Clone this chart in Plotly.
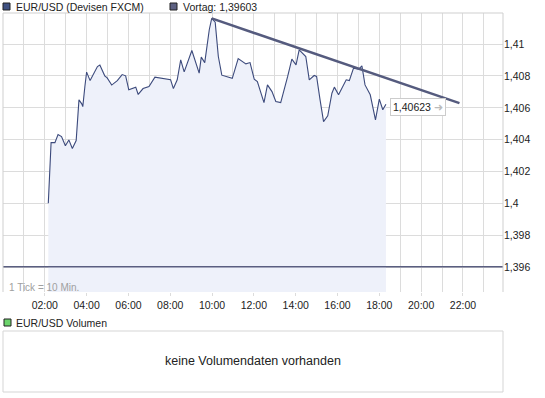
import plotly.graph_objects as go

DAY = "2011-04-29"
times = ["02:10","02:14","02:18","02:29","02:38","02:48","02:59","03:09","03:19","03:30",
         "03:38","03:46","03:49","03:55","04:00","04:10","04:18","04:31","04:38","04:52",
         "04:59","05:12","05:28","05:42","05:52","06:01","06:21","06:28","06:42","06:59",
         "07:16","07:37","08:01","08:09","08:20","08:30","08:40","09:02","09:23","09:29",
         "09:39","09:52","09:59","10:09","10:18","10:28","10:58","11:15","11:37","11:49",
         "12:01","12:10","12:29","12:39","12:52","13:03","13:17","13:37","13:49","14:01",
         "14:10","14:29","14:39","14:53","15:00","15:10","15:20","15:32","15:44","15:51",
         "16:03","16:25","16:34","16:46","17:01","17:10","17:19","17:34","17:49","18:00",
         "18:10","18:19"]
prices = [1.40002,1.40192,1.40382,1.40382,1.40432,1.40420,1.40362,1.40399,1.40345,1.40395,
          1.40650,1.40625,1.40608,1.40734,1.40824,1.40771,1.40805,1.40859,1.40868,1.40801,
          1.40788,1.40743,1.40771,1.40809,1.40801,1.40713,1.40730,1.40684,1.40721,1.40734,
          1.40793,1.40784,1.40776,1.40721,1.40776,1.40901,1.40826,1.40960,1.40818,1.40918,
          1.40884,1.41090,1.41161,1.41137,1.40922,1.40805,1.40785,1.40909,1.40876,1.40884,
          1.40780,1.40765,1.40633,1.40744,1.40702,1.40640,1.40633,1.40797,1.40906,1.40870,
          1.40964,1.40922,1.40776,1.40803,1.40797,1.40650,1.40514,1.40550,1.40692,1.40730,
          1.40682,1.40776,1.40771,1.40849,1.40843,1.40864,1.40744,1.40682,1.40525,1.40655,
          1.40588,1.40623]
trend_times = ["09:59", "21:50"]
trend_values = [1.41161, 1.40630]
vortag = 1.39603
last_label = "1,40623"
y_ticks = [1.396, 1.398, 1.400, 1.402, 1.404, 1.406, 1.408, 1.410]
y_tick_labels = ["1,396", "1,398", "1,4", "1,402", "1,404", "1,406", "1,408", "1,41"]
x_tick_labels = ["02:00","04:00","06:00","08:00","10:00","12:00","14:00","16:00","18:00","20:00","22:00"]

def ts(hm):
    return f"{DAY} {hm}:00"

W, H = 545, 398
ML, MR, MT, MB = 3, 42, 13, 5
PW, PH = W - ML - MR, H - MT - MB

def px(x):
    return (x - ML) / PW

def py(y):
    return (H - MB - y) / PH

FONT = "Liberation Sans, Arial, sans-serif"
LINE = "#3C4A7C"
GRID = "#DCDCDC"

fig = go.Figure()
fig.add_trace(go.Scatter(x=[ts(t) for t in times], y=prices, mode="lines",
                         line=dict(color=LINE, width=1.1), fill="tozeroy",
                         fillcolor="#EEF1FA", hoverinfo="skip", showlegend=False))
fig.add_trace(go.Scatter(x=[ts(t) for t in trend_times], y=trend_values, mode="lines",
                         line=dict(color="#555B7E", width=2.5), hoverinfo="skip",
                         showlegend=False))

fig.add_shape(type="line", xref="paper", yref="y", x0=0, x1=1, y0=vortag, y1=vortag,
              line=dict(color="#5A5E80", width=1.5), layer="above")
fig.add_shape(type="path", xref="paper", yref="paper",
              path=f"M 0,{py(292)} L 0,1 L 1,1 L 1,{py(292)}",
              line=dict(color="#CFCFCF", width=1))

dom_bottom = py(292)
fig.update_layout(
    width=W, height=H, margin=dict(l=ML, r=MR, t=MT, b=MB),
    paper_bgcolor="white", plot_bgcolor="white",
    font=dict(family=FONT, size=10, color="#222"),
    xaxis=dict(type="date", range=[f"{DAY} 00:00:00", f"{DAY} 23:55:00"],
               tickmode="array",
               tickvals=[ts(t) for t in x_tick_labels], ticktext=x_tick_labels,
               showgrid=True, gridcolor=GRID, gridwidth=1,
               minor=dict(tick0=ts("00:00"), dtick=3600000, showgrid=True,
                          gridcolor=GRID, gridwidth=1),
               ticks="outside", ticklen=3, tickcolor=GRID,
               showline=False, zeroline=False, tickfont=dict(size=10.5, color="#222"),
               anchor="y"),
    yaxis=dict(domain=[dom_bottom, 1], range=[1.39445, 1.41195], side="right",
               tickmode="array", tickvals=y_ticks, ticktext=y_tick_labels,
               showgrid=True, gridcolor=GRID, gridwidth=1, zeroline=False,
               showline=False, ticks="", tickfont=dict(size=10.5, color="#222")),
)

fig.add_annotation(x=ts(times[-1]), y=prices[-1], xref="x", yref="y",
                   text=f"{last_label} <span style='color:#BBBBBB'>➜</span>",
                   showarrow=False, xanchor="left", yanchor="middle", xshift=4, yshift=-3,
                   bgcolor="white", bordercolor="#CCCCCC", borderwidth=1, borderpad=2,
                   font=dict(size=10.5, color="#222"))

fig.add_annotation(x=px(7), y=py(287), xref="paper", yref="paper", text="1 Tick = 10 Min.",
                   showarrow=False, xanchor="left", yanchor="middle",
                   font=dict(size=10, color="#A0A0A0"))

fig.add_shape(type="rect", xref="paper", yref="paper", x0=px(3), x1=px(10), y0=py(10), y1=py(3),
              fillcolor="#3F5182", line=dict(color="#222", width=1))
fig.add_annotation(x=px(14), y=py(6.5), xref="paper", yref="paper", text="EUR/USD (Devisen FXCM)",
                   showarrow=False, xanchor="left", yanchor="middle", font=dict(size=10.5, color="#222"))
fig.add_shape(type="rect", xref="paper", yref="paper", x0=px(170), x1=px(177), y0=py(10), y1=py(3),
              fillcolor="#5D6182", line=dict(color="#222", width=1))
fig.add_annotation(x=px(181), y=py(6.5), xref="paper", yref="paper", text="Vortag: 1,39603",
                   showarrow=False, xanchor="left", yanchor="middle", font=dict(size=10.5, color="#222"))

fig.add_shape(type="rect", xref="paper", yref="paper", x0=px(4), x1=px(11), y0=py(326), y1=py(319),
              fillcolor="#6CD46C", line=dict(color="#222", width=1))
fig.add_annotation(x=px(14), y=py(322.5), xref="paper", yref="paper", text="EUR/USD Volumen",
                   showarrow=False, xanchor="left", yanchor="middle", font=dict(size=10.5, color="#222"))
fig.add_shape(type="rect", xref="paper", yref="paper", x0=0, x1=1, y0=py(392), y1=py(331),
              line=dict(color="#D5D5D5", width=1), fillcolor="rgba(0,0,0,0)")
fig.add_annotation(x=0.5, y=py(361), xref="paper", yref="paper", text="keine Volumendaten vorhanden",
                   showarrow=False, xanchor="center", yanchor="middle", font=dict(size=12.5, color="#222"))

fig.write_html("out.html", config={"displayModeBar": False, "staticPlot": True},
               post_script="document.body.style.margin='0';document.body.style.overflow='hidden';")
